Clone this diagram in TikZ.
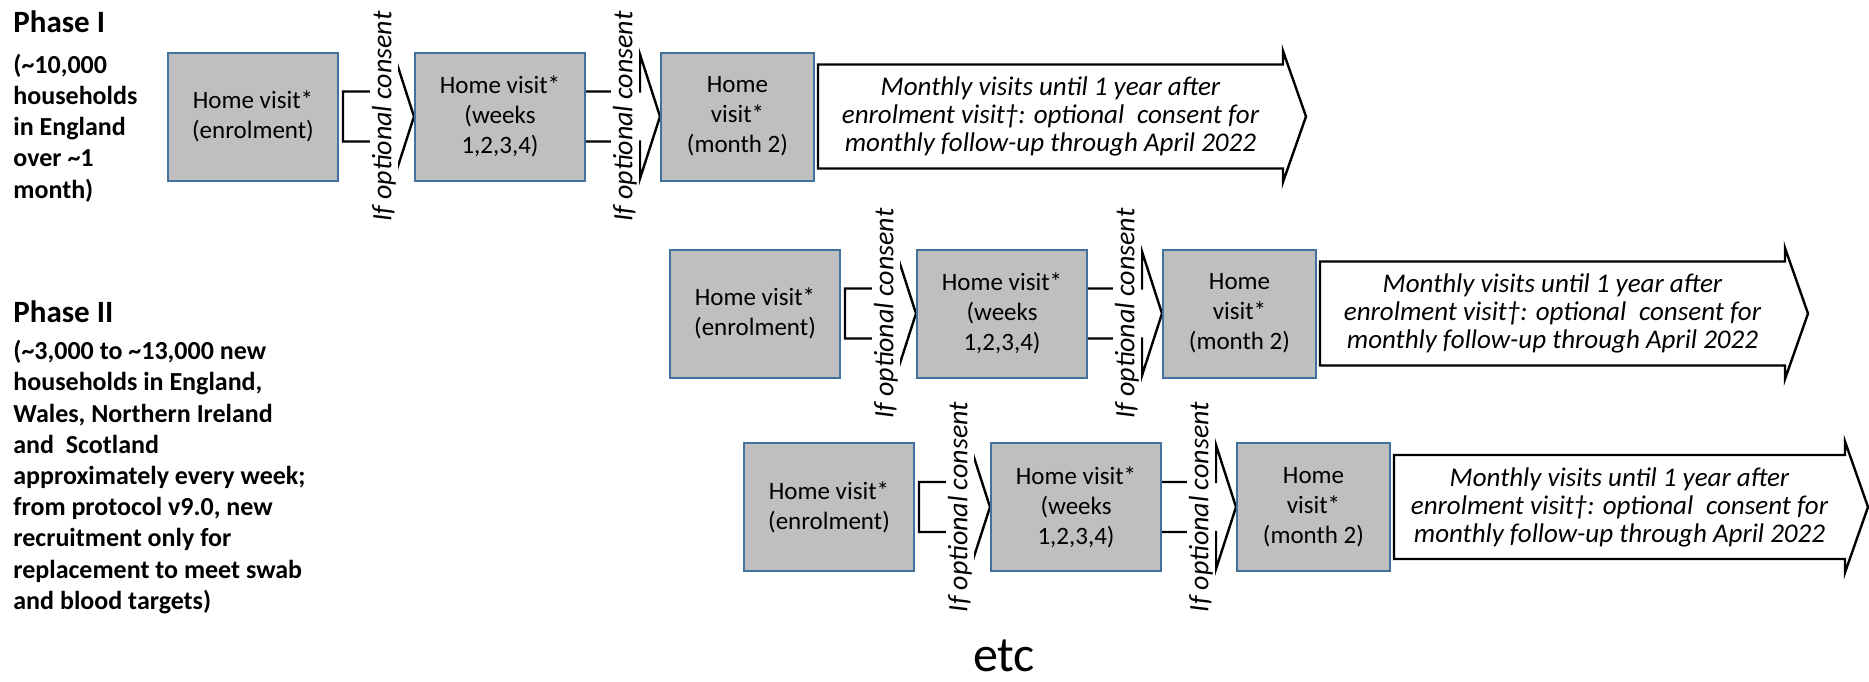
\documentclass[tikz,border=0pt]{standalone}
\usepackage{fontspec}
\setmainfont{Carlito}
\usetikzlibrary{calc}
\pgfdeclarelayer{background}
\pgfsetlayers{background,main}
\definecolor{boxgray}{RGB}{191,191,191}
\definecolor{boxblue}{RGB}{65,113,156}
\newcommand{\visitrow}[4]{%
  \node[visit,minimum width=85pt] (#1a) at (#2,#3) {Home visit*\\(enrolment)};
  \node[visit,minimum width=85pt] (#1b) at ($(#2,#3)+(247,0)$) {Home visit*\\(weeks\\1,2,3,4)};
  \node[visit,minimum width=76.5pt] (#1c) at ($(#2,#3)+(493,0)$) {Home\\visit*\\(month 2)};
  \begin{pgfonlayer}{background}
    \draw[conn] ($(#1a.east)+(4,-25)$) -- ($(#1b.west)+(-20,-25)$) -- ($(#1b.west)+(-20,-62)$) -- (#1b.west)
      -- ($(#1b.west)+(-20,62)$) -- ($(#1b.west)+(-20,25)$) -- ($(#1a.east)+(4,25)$) -- cycle;
    \draw[conn] ($(#1b.east)+(-4,-25)$) -- ($(#1c.west)+(-20,-25)$) -- ($(#1c.west)+(-20,-62)$) -- (#1c.west)
      -- ($(#1c.west)+(-20,62)$) -- ($(#1c.west)+(-20,25)$) -- ($(#1b.east)+(-4,25)$) -- cycle;
  \end{pgfonlayer}
  \node[consent] (#1l1) at ($(#1a.east)+(45,0)$) {If optional consent};
  \node[consent] (#1l2) at ($(#1b.east)+(39,0)$) {If optional consent};
  \draw[conn] ($(#1c.east)+(3,-52)$) -- ($(#1c.east)+(3+#4,-52)$) -- ($(#1c.east)+(3+#4,-65.5)$)
    -- ($(#1c.east)+(26+#4,0)$) -- ($(#1c.east)+(3+#4,65.5)$) -- ($(#1c.east)+(3+#4,52)$)
    -- ($(#1c.east)+(3,52)$) -- cycle;
  \node[bigtext] (#1t) at ($(#1c.east)+(3+#4/2,0)$) {Monthly visits until 1 year after\\enrolment visit†: optional\hspace{0.25em} consent for\\monthly follow-up through April 2022};
}
\begin{document}
\begin{tikzpicture}[x=0.5pt,y=-0.5pt,
  visit/.style={draw=boxblue, fill=boxgray, line width=1pt, minimum height=64pt, inner sep=0pt,
    align=center, anchor=north west, font=\fontsize{12.5}{15}\selectfont},
  consent/.style={rotate=90, fill=white, inner xsep=0pt, inner ysep=1pt,
    font=\fontsize{14}{16}\selectfont\itshape},
  conn/.style={draw=black, line width=1.2pt, fill=white, line join=miter},
  bigtext/.style={align=center, inner sep=0pt, font=\fontsize{13.5}{14}\selectfont\itshape},
  phasetitle/.style={anchor=west, inner sep=0pt, font=\fontsize{15.5}{18}\selectfont\bfseries},
  phasetext/.style={anchor=west, inner sep=0pt, align=left, font=\fontsize{13}{15.6}\selectfont\bfseries},
]
\useasboundingbox (0,0) rectangle (1869,681);
\begin{pgfonlayer}{background}
  \fill[white] (0,0) rectangle (1869,681);
\end{pgfonlayer}
\node[phasetitle] (p1) at (13,22) {Phase I};
\node[phasetext] (p1t) at (13,128) {(\textasciitilde10,000\\households\\in England\\over \textasciitilde1\\month)};
\node[phasetitle] (p2) at (13,312) {Phase II};
\node[phasetext] (p2t) at (13,477) {(\textasciitilde3,000 to \textasciitilde13,000 new\\households in England,\\Wales, Northern Ireland\\and\ \ Scotland\\approximately every week;\\from protocol v9.0, new\\recruitment only for\\replacement to meet swab\\and blood targets)};
\visitrow{r}{167}{51.5}{465}
\visitrow{s}{669}{248.5}{465}
\visitrow{t}{743}{442}{451}
\node[font=\fontsize{25}{30}\selectfont] (etc) at (1004,656) {etc};
\end{tikzpicture}
\end{document}
